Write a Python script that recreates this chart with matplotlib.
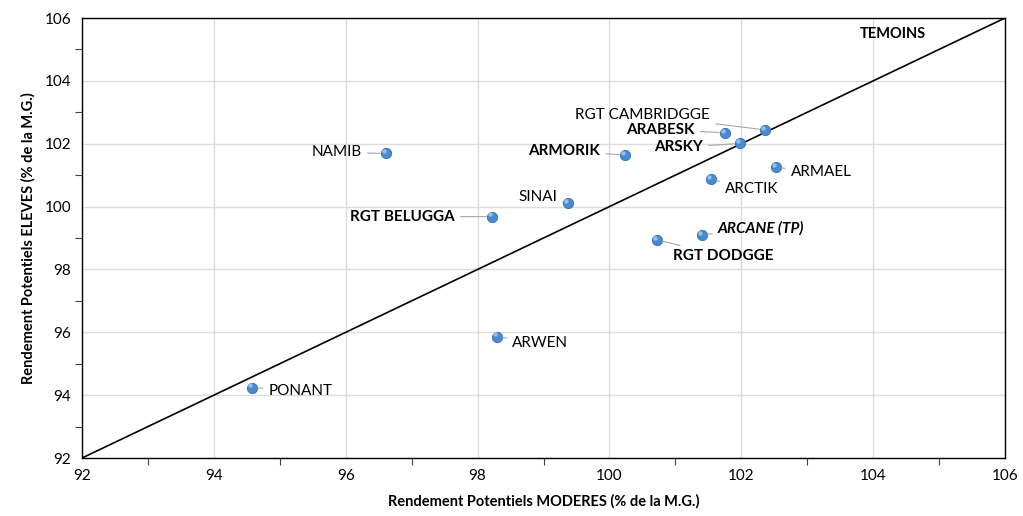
import numpy as np
import matplotlib
matplotlib.use("Agg")
import matplotlib.pyplot as plt
from matplotlib.ticker import MultipleLocator

plt.rcParams['font.family'] = ['Lato', 'DejaVu Sans']

# Data
varieties = ['PONANT', 'ARWEN', 'RGT BELUGGA', 'NAMIB', 'SINAI', 'ARMORIK',
             'ARABESK', 'ARSKY', 'RGT CAMBRIDGGE', 'ARMAEL', 'ARCTIK',
             'ARCANE (TP)', 'RGT DODGGE']
moderes = [94.58, 98.30, 98.22, 96.61, 99.37, 100.24,
           101.75, 101.98, 102.36, 102.52, 101.54, 101.40, 100.72]
eleves = [94.24, 95.86, 99.68, 101.69, 100.10, 101.64,
          102.35, 102.01, 102.44, 101.25, 100.87, 99.10, 98.94]
axis_min, axis_max = 92, 106

# label placement (pixel offsets from the point) and font style
label_layout = {
    'PONANT': ((16, -3), 'left', 'normal', 'normal'),
    'ARWEN': ((15, -6), 'left', 'normal', 'normal'),
    'RGT BELUGGA': ((-37, 0), 'right', 'bold', 'normal'),
    'NAMIB': ((-24, 1), 'right', 'normal', 'normal'),
    'SINAI': ((-11, 6), 'right', 'normal', 'normal'),
    'ARMORIK': ((-25, 4), 'right', 'bold', 'normal'),
    'ARABESK': ((-30, 3), 'right', 'bold', 'normal'),
    'ARSKY': ((-37, -4), 'right', 'bold', 'normal'),
    'RGT CAMBRIDGGE': ((-55, 15), 'right', 'normal', 'normal'),
    'ARMAEL': ((15, -5), 'left', 'normal', 'normal'),
    'ARCTIK': ((14, -10), 'left', 'normal', 'normal'),
    'ARCANE (TP)': ((16, 6), 'left', 'bold', 'italic'),
    'RGT DODGGE': ((16, -16), 'left', 'bold', 'normal'),
}

fig = plt.figure(figsize=(10.23, 5.16), dpi=100)
ax = fig.add_axes([0.0802, 0.1124, 0.9022, 0.8527])

# grid
ax.set_xlim(axis_min, axis_max)
ax.set_ylim(axis_min, axis_max)
ax.xaxis.set_major_locator(MultipleLocator(2))
ax.yaxis.set_major_locator(MultipleLocator(2))
ax.xaxis.set_minor_locator(MultipleLocator(1))
ax.yaxis.set_minor_locator(MultipleLocator(1))
ax.grid(True, which='major', color='#dcdcdc', linewidth=1.0)
ax.set_axisbelow(True)
ax.tick_params(which='major', length=0, labelsize=11, pad=8)
ax.tick_params(which='minor', length=5, direction='out', width=0.8, color='#404040')
for s in ax.spines.values():
    s.set_color('black')
    s.set_linewidth(1.0)

# 1:1 line (temoins)
ax.plot([axis_min, axis_max], [axis_min, axis_max], color='black', linewidth=1.2, zorder=2)
ax.text(104.3, 105.5, 'TEMOINS', fontsize=10.5, fontweight='bold', ha='center', va='center')

# points
ax.scatter(moderes, eleves, s=55, color='#4a8ad0', edgecolor='#3570b0', linewidth=0.6, zorder=4)
ax.scatter(np.array(moderes) - 0.03, np.array(eleves) + 0.07, s=10, color='#8fc0ee',
           linewidth=0, zorder=5)

for name, x, y in zip(varieties, moderes, eleves):
    off, ha, weight, style = label_layout[name]
    ax.annotate(name, xy=(x, y), xytext=off, textcoords='offset pixels',
                ha=ha, va='center', fontsize=11, fontweight=weight, fontstyle=style,
                arrowprops=dict(arrowstyle='-', color='#a6a6a6', lw=0.8,
                                shrinkA=2, shrinkB=4), zorder=6)

ax.set_xlabel('Rendement Potentiels MODERES (% de la M.G.)', fontsize=10.5, fontweight='bold', labelpad=8)
ax.set_ylabel('Rendement Potentiels ELEVES (% de la M.G.)', fontsize=10.5, fontweight='bold', labelpad=6)

fig.savefig('out.png', dpi=100)
